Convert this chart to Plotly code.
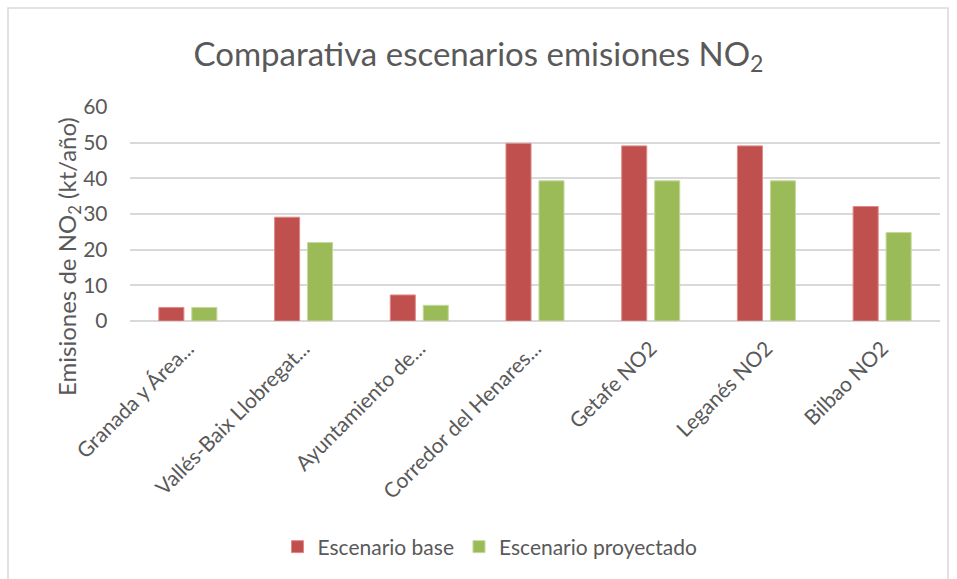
import plotly.graph_objects as go

categories = [
    "Granada y Área...",
    "Vallés-Baix Llobregat...",
    "Ayuntamiento de...",
    "Corredor del Henares...",
    "Getafe NO2",
    "Leganés NO2",
    "Bilbao NO2",
]
escenario_base = [3.8, 29.1, 7.3, 49.8, 49.1, 49.1, 32.1]
escenario_proyectado = [3.8, 22.0, 4.4, 39.3, 39.3, 39.3, 24.8]
y_ticks = [0, 10, 20, 30, 40, 50, 60]

FONT = "Lato"
TEXT = "#595959"

fig = go.Figure()
fig.add_trace(go.Bar(
    name="Escenario base", x=categories, y=escenario_base,
    marker=dict(color="#C0504D", line=dict(color="#E08A88", width=1)),
))
fig.add_trace(go.Bar(
    name="Escenario proyectado", x=categories, y=escenario_proyectado,
    marker=dict(color="#9BBB59", line=dict(color="#C4D99A", width=1)),
))

W, H = 957, 579
L, R, T, B = 130, 17, 107, 258
pw, ph = W - L - R, H - T - B

def px_x(x):
    return (x - L) / pw

def px_y(y):
    return (H - B - y) / ph

fig.update_layout(
    width=W, height=H,
    margin=dict(l=L, r=R, t=T, b=B, autoexpand=False),
    paper_bgcolor="white", plot_bgcolor="white",
    barmode="group", bargap=0.43, bargroupgap=0.24,
    font=dict(family=FONT, color=TEXT),
    title=dict(
        text="Comparativa escenarios emisiones NO<sub>2</sub>",
        font=dict(family=FONT, size=33, color=TEXT),
        x=0.5, xref="container", xanchor="center",
        y=1 - 54 / H, yref="container", yanchor="middle",
    ),
    xaxis=dict(
        tickangle=-45, tickfont=dict(size=21, color=TEXT),
        showline=False, showgrid=False,
        ticks="outside", ticklen=6, tickcolor="rgba(0,0,0,0)",
    ),
    yaxis=dict(
        range=[0, 60], tickvals=y_ticks,
        ticktext=[f"{v}\u00a0\u00a0\u00a0\u00a0" for v in y_ticks],
        tickfont=dict(size=21, color=TEXT),
        showgrid=True, gridcolor="#D9D9D9", gridwidth=1.5,
        zeroline=True, zerolinecolor="#D9D9D9", zerolinewidth=1.5,
        ticks="",
    ),
    legend=dict(
        orientation="h", x=px_x(490), xanchor="center",
        y=px_y(547), yanchor="middle",
        font=dict(size=21, color=TEXT), traceorder="normal",
        itemwidth=30,
    ),
    annotations=[dict(
        text="Emisiones de NO<sub>2</sub> (kt/año)",
        textangle=-90, xref="paper", yref="paper",
        x=px_x(68), y=px_y(257), xanchor="center", yanchor="middle",
        showarrow=False, font=dict(size=24, color=TEXT),
    )],
    shapes=[dict(
        type="rect", xref="paper", yref="paper",
        x0=px_x(8), x1=px_x(948), y0=px_y(600), y1=px_y(8),
        line=dict(color="#D9D9D9", width=1.5), fillcolor="rgba(0,0,0,0)",
        layer="below",
    )],
)

fig.write_html("out.html")
